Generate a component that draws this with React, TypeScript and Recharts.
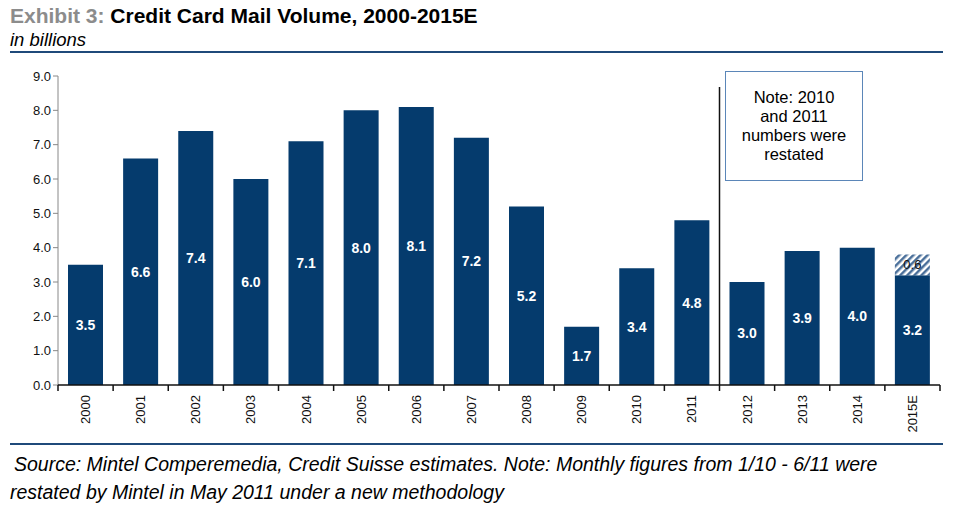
import { BarChart, Bar, XAxis, YAxis, LabelList, ReferenceLine } from "recharts";

const years = ["2000", "2001", "2002", "2003", "2004", "2005", "2006", "2007", "2008", "2009", "2010", "2011", "2012", "2013", "2014", "2015E"];
const volume = [3.5, 6.6, 7.4, 6.0, 7.1, 8.0, 8.1, 7.2, 5.2, 1.7, 3.4, 4.8, 3.0, 3.9, 4.0, 3.2];
const estimate = [null, null, null, null, null, null, null, null, null, null, null, null, null, null, null, 0.6];
const yTicks = [0, 1, 2, 3, 4, 5, 6, 7, 8, 9];

const data = years.map((year, i) => ({ year, volume: volume[i], estimate: estimate[i] }));

const navy = "#053b6d";
const font = "'Liberation Sans', Arial, sans-serif";

const BAND = 882 / years.length;

function YearTick(props: any) {
  const { x, y, payload, index } = props;
  return (
    <g>
      <line x1={x - BAND / 2} x2={x - BAND / 2} y1={y - 8} y2={y - 2} stroke="#111" strokeWidth={1.5} />
      {index === years.length - 1 && (
        <line x1={x + BAND / 2} x2={x + BAND / 2} y1={y - 8} y2={y - 2} stroke="#111" strokeWidth={1.5} />
      )}
      <text
        x={x}
        y={y + 2}
        transform={`rotate(-90, ${x}, ${y + 2})`}
        textAnchor="end"
        dominantBaseline="central"
        fontSize={13}
        fontFamily={font}
        fill="#111"
      >
        {payload.value}
      </text>
    </g>
  );
}

export default function App() {
  return (
    <div style={{ position: "absolute", left: 0, top: 0, width: 958, height: 512, background: "#fff", fontFamily: font }}>
      <div style={{ position: "absolute", left: 10, top: 4, fontSize: 21, fontWeight: "bold", color: "#000", whiteSpace: "nowrap" }}>
        <span style={{ color: "#8c8c8c" }}>Exhibit 3:</span> Credit Card Mail Volume, 2000-2015E
      </div>
      <div style={{ position: "absolute", left: 10, top: 29, fontSize: 18.5, fontStyle: "italic", color: "#000" }}>in billions</div>
      <div style={{ position: "absolute", left: 10, top: 51, width: 933, height: 2, background: "#1f4a7a" }} />

      <div style={{ position: "absolute", left: 0, top: 0 }}>
        <BarChart width={958} height={440} data={data} margin={{ top: 76, right: 18, left: 0, bottom: 5 }} barSize={35}>
          <defs>
            <pattern id="hatch" patternUnits="userSpaceOnUse" width={5} height={5} patternTransform="rotate(45)">
              <rect width={5} height={5} fill="#fff" />
              <rect width={2.5} height={5} fill="#4a6f9a" />
            </pattern>
          </defs>
          <YAxis
            type="number"
            domain={[0, 9]}
            ticks={yTicks}
            width={58}
            tickFormatter={(v: number) => v.toFixed(1)}
            tick={{ fontSize: 13, fill: "#111", fontFamily: font }}
            axisLine={{ stroke: "#888" }}
            tickLine={{ stroke: "#888" }}
            tickSize={5}
            interval={0}
          />
          <XAxis
            dataKey="year"
            height={50}
            interval={0}
            tick={<YearTick />}
            tickLine={false}
            axisLine={{ stroke: "#111", strokeWidth: 1.5 }}
          />
          <ReferenceLine
            segment={[{ x: "2011", y: 0 }, { x: "2011", y: 8.68 }]}
            position="end"
            stroke="#111"
            strokeWidth={1.5}
            ifOverflow="visible"
          />
          <Bar dataKey="volume" stackId="a" fill={navy} isAnimationActive={false}>
            <LabelList dataKey="volume" position="center" fill="#fff" fontSize={14} fontWeight={600} fontFamily={font} formatter={(v: any) => Number(v).toFixed(1)} />
          </Bar>
          <Bar dataKey="estimate" stackId="a" fill="url(#hatch)" isAnimationActive={false}>
            <LabelList dataKey="estimate" position="center" fill="#111" fontSize={13} fontFamily={font} formatter={(v: any) => (v == null ? "" : Number(v).toFixed(1))} />
          </Bar>
        </BarChart>
      </div>

      <div
        style={{
          position: "absolute",
          left: 725,
          top: 71,
          width: 136,
          height: 108,
          border: "1px solid #5b86b8",
          boxSizing: "content-box",
          textAlign: "center",
          fontSize: 16.5,
          lineHeight: "19px",
          color: "#000",
          display: "flex",
          alignItems: "center",
          justifyContent: "center",
          background: "#fff",
        }}
      >
        <div>Note: 2010<br />and 2011<br />numbers were<br />restated</div>
      </div>

      <div style={{ position: "absolute", left: 10, top: 443, width: 933, height: 2, background: "#1f4a7a" }} />
      <div style={{ position: "absolute", left: 14, top: 453, fontSize: 19.5, fontStyle: "italic", color: "#000", whiteSpace: "nowrap" }}>
        Source: Mintel Comperemedia, Credit Suisse estimates. Note: Monthly figures from 1/10 - 6/11 were
      </div>
      <div style={{ position: "absolute", left: 10, top: 481, fontSize: 19.5, fontStyle: "italic", color: "#000", whiteSpace: "nowrap" }}>
        restated by Mintel in May 2011 under a new methodology
      </div>
    </div>
  );
}
